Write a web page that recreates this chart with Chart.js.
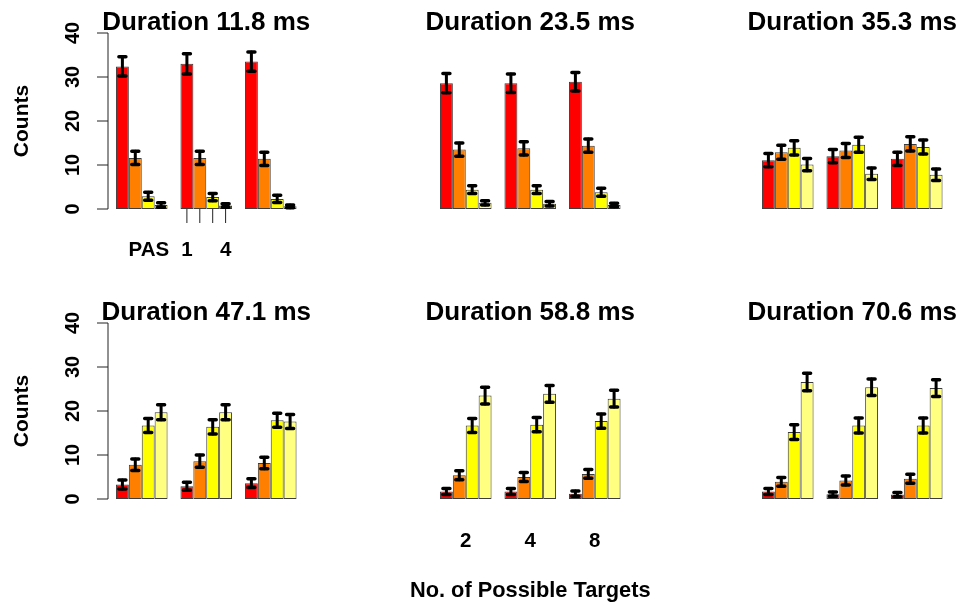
<!DOCTYPE html>
<html><head><meta charset="utf-8">
<script src="https://cdn.jsdelivr.net/npm/chart.js@4"></script>
<style>
html,body{margin:0;padding:0;background:#fff;}
#wrap{position:relative;width:961px;height:605px;overflow:hidden;background:#fff;}
#wrap canvas{position:absolute;left:0;top:0;}
</style></head><body><div id="wrap"></div>
<script>
// ---- data ----
const durations = ['11.8', '23.5', '35.3', '47.1', '58.8', '70.6'];
const targets = ['2', '4', '8'];
const pasLevels = ['1', '2', '3', '4'];
const pasTickLabels = ['1', '', '', '4'];
const pasColors = ['#FF0000', '#FF8000', '#FFFF00', '#FFFF80'];
const yTicks = [0, 10, 20, 30, 40];

// rows = PAS 1..4, columns = targets 2,4,8
const mean11_8 = [[32.4, 33.0, 33.5], [11.6, 11.6, 11.4], [2.9, 2.7, 2.3], [0.9, 0.8, 0.6]];
const err11_8  = [[2.2, 2.3, 2.2], [1.5, 1.5, 1.5], [0.9, 0.8, 0.8], [0.5, 0.4, 0.3]];
const mean23_5 = [[28.6, 28.6, 28.9], [13.5, 13.8, 14.4], [4.4, 4.4, 3.8], [1.4, 1.2, 0.9]];
const err23_5  = [[2.2, 2.1, 2.1], [1.5, 1.5, 1.5], [0.9, 0.9, 0.9], [0.5, 0.5, 0.4]];
const mean35_3 = [[11.1, 12.0, 11.4], [12.9, 13.3, 14.8], [13.9, 14.6, 14.1], [10.1, 8.0, 7.8]];
const err35_3  = [[1.5, 1.5, 1.5], [1.6, 1.6, 1.6], [1.6, 1.7, 1.6], [1.4, 1.3, 1.3]];
const mean47_1 = [[3.3, 2.9, 3.6], [7.8, 8.6, 8.2], [16.7, 16.4, 17.9], [19.7, 19.7, 17.6]];
const err47_1  = [[1.0, 0.9, 1.0], [1.3, 1.4, 1.3], [1.6, 1.6, 1.6], [1.7, 1.7, 1.6]];
const mean58_8 = [[1.7, 1.7, 1.2], [5.4, 5.0, 5.7], [16.7, 16.9, 17.7], [23.5, 23.9, 22.8]];
const err58_8  = [[0.7, 0.7, 0.6], [1.0, 1.0, 1.0], [1.6, 1.6, 1.6], [1.9, 1.9, 1.9]];
const mean70_6 = [[1.7, 1.1, 1.0], [3.9, 4.2, 4.6], [15.2, 16.7, 16.7], [26.6, 25.4, 25.2]];
const err70_6  = [[0.7, 0.5, 0.5], [1.0, 1.0, 1.0], [1.7, 1.7, 1.7], [2.0, 1.9, 1.9]];

const panelMeans = [mean11_8, mean23_5, mean35_3, mean47_1, mean58_8, mean70_6];
const panelErrs = [err11_8, err23_5, err35_3, err47_1, err58_8, err70_6];

// ---- layout ----
const W = 961, H = 605;
const colLeft = [109.5, 433.5, 755.5];
const plotW = 193.5;
const rowTop = [33, 323];
const plotH = 176;
const FONT = '"Liberation Sans", Arial, Helvetica, sans-serif';

function decor(idx, row, col) {
  return {
    id: 'decor' + idx,
    afterDatasetsDraw(chart) {
      const ctx = chart.ctx, ys = chart.scales.y, xs = chart.scales.x, ca = chart.chartArea;
      ctx.save();
      // error bars
      chart.data.datasets.forEach((ds, di) => {
        const meta = chart.getDatasetMeta(di);
        meta.data.forEach((bar, j) => {
          const v = ds.data[j], e = ds.errs[j];
          const x = bar.x;
          const yt = ys.getPixelForValue(v + e), yb = ys.getPixelForValue(Math.max(0, v - e));
          ctx.strokeStyle = '#000';
          ctx.lineCap = 'round';
          ctx.lineWidth = 3;
          ctx.beginPath(); ctx.moveTo(x, yt); ctx.lineTo(x, yb); ctx.stroke();
          ctx.lineWidth = 3.5;
          ctx.beginPath();
          ctx.moveTo(x - 3.5, yt); ctx.lineTo(x + 3.5, yt);
          ctx.moveTo(x - 3.5, yb); ctx.lineTo(x + 3.5, yb);
          ctx.stroke();
        });
      });
      ctx.lineCap = 'butt';
      ctx.fillStyle = '#000';
      // title
      ctx.font = 'bold 26px ' + FONT;
      ctx.textAlign = 'center';
      ctx.textBaseline = 'alphabetic';
      ctx.fillText('Duration ' + durations[idx] + ' ms', (ca.left + ca.right) / 2, ca.top - 3);
      // y axis on left column
      if (col === 0) {
        const ax = ca.left - 1.5;
        const y0 = ys.getPixelForValue(yTicks[0]);
        const y1 = ys.getPixelForValue(yTicks[yTicks.length - 1]);
        ctx.strokeStyle = '#222';
        ctx.lineWidth = 1;
        ctx.beginPath();
        ctx.moveTo(ax, y0); ctx.lineTo(ax, y1);
        yTicks.forEach(t => { const yy = ys.getPixelForValue(t); ctx.moveTo(ax, yy); ctx.lineTo(ax - 11, yy); });
        ctx.stroke();
        ctx.font = 'bold 20px ' + FONT;
        yTicks.forEach(t => {
          const yy = ys.getPixelForValue(t);
          ctx.save(); ctx.translate(ax - 29, yy); ctx.rotate(-Math.PI / 2);
          ctx.textAlign = 'center'; ctx.fillText(String(t), 0, 0); ctx.restore();
        });
        ctx.font = 'bold 21px ' + FONT;
        ctx.save(); ctx.translate(27.5, (y0 + y1) / 2); ctx.rotate(-Math.PI / 2);
        ctx.textAlign = 'center'; ctx.fillText('Counts', 0, 0); ctx.restore();
      }
      // PAS ticks under second group of first panel
      if (idx === 0) {
        const y0 = ys.getPixelForValue(0);
        const xsP = chart.data.datasets.map((ds, di) => chart.getDatasetMeta(di).data[1].x);
        ctx.strokeStyle = '#222'; ctx.lineWidth = 1;
        ctx.beginPath();
        xsP.forEach(x => { ctx.moveTo(x, y0); ctx.lineTo(x, y0 + 14); });
        ctx.stroke();
        ctx.font = 'bold 20.5px ' + FONT;
        ctx.textAlign = 'center';
        xsP.forEach((x, i) => { if (pasTickLabels[i]) ctx.fillText(pasTickLabels[i], x, y0 + 47); });
        ctx.fillText('PAS', xsP[0] - 38, y0 + 47);
      }
      // target labels + axis title under bottom-middle panel
      if (idx === 4) {
        const y0 = ys.getPixelForValue(0);
        ctx.font = 'bold 20.5px ' + FONT;
        ctx.textAlign = 'center';
        targets.forEach((t, i) => ctx.fillText(t, xs.getPixelForValue(i), y0 + 48));
        ctx.font = 'bold 21.8px ' + FONT;
        ctx.fillText('No. of Possible Targets', (ca.left + ca.right) / 2, y0 + 98);
      }
      ctx.restore();
    }
  };
}

const wrap = document.getElementById('wrap');
for (let idx = 0; idx < 6; idx++) {
  const row = Math.floor(idx / 3), col = idx % 3;
  const cv = document.createElement('canvas');
  cv.width = W; cv.height = H;
  cv.style.width = W + 'px'; cv.style.height = H + 'px';
  wrap.appendChild(cv);
  const L = colLeft[col], T = rowTop[row];
  new Chart(cv.getContext('2d'), {
    type: 'bar',
    data: {
      labels: targets,
      datasets: pasLevels.map((p, pi) => ({
        label: 'PAS ' + p,
        data: panelMeans[idx][pi],
        errs: panelErrs[idx][pi],
        backgroundColor: pasColors[pi],
        borderColor: '#3c3c3c',
        borderWidth: 1,
        borderSkipped: false,
        categoryPercentage: 0.8,
        barPercentage: 1.0
      }))
    },
    options: {
      responsive: false,
      devicePixelRatio: 1,
      animation: false,
      layout: { padding: { left: L, right: W - (L + plotW), top: T, bottom: H - (T + plotH) } },
      plugins: { legend: { display: false }, tooltip: { enabled: false }, title: { display: false } },
      scales: {
        x: { type: 'category', display: false, offset: true, grid: { display: false } },
        y: { display: false, min: 0, max: 40, grid: { display: false } }
      }
    },
    plugins: [decor(idx, row, col)]
  });
}
</script>
</body></html>
